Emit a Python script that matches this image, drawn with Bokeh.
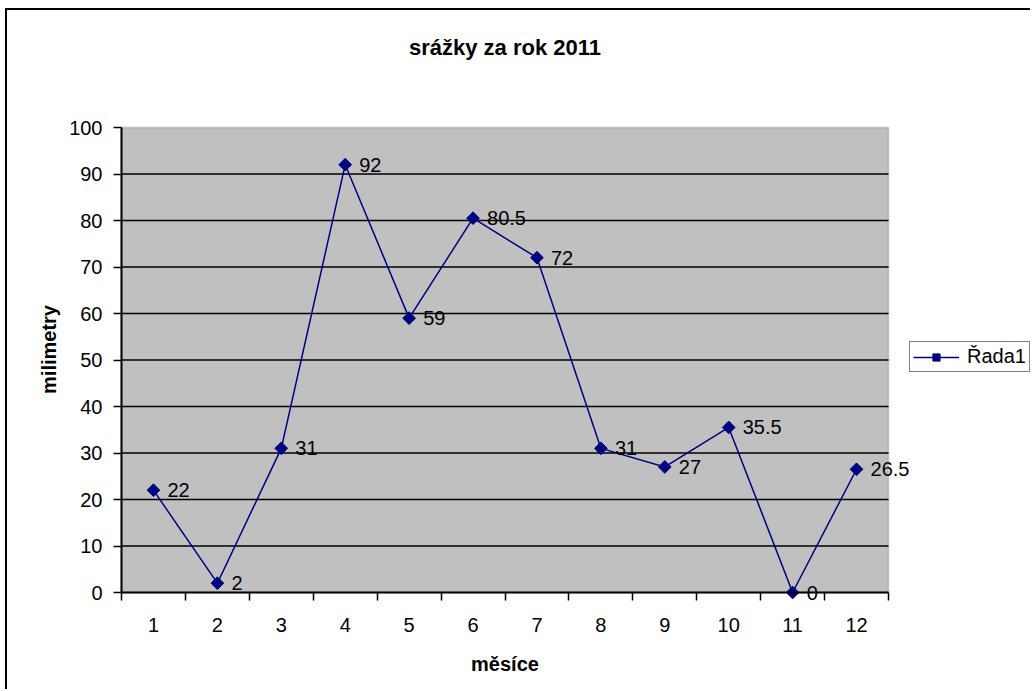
from bokeh.plotting import figure
from bokeh.models import (Range1d, FixedTicker, ColumnDataSource, LabelSet, Label,
                          Legend, LegendItem, BoxAnnotation)
from bokeh.core.properties import value
from bokeh.embed import file_html
from bokeh.resources import INLINE

# ---- data ----
months = [1, 2, 3, 4, 5, 6, 7, 8, 9, 10, 11, 12]
rainfall = [22, 2, 31, 92, 59, 80.5, 72, 31, 27, 35.5, 0, 26.5]
labels = ["22", "2", "31", "92", "59", "80.5", "72", "31", "27", "35.5", "0", "26.5"]
month_labels = ["1", "2", "3", "4", "5", "6", "7", "8", "9", "10", "11", "12"]
y_ticks = [0, 10, 20, 30, 40, 50, 60, 70, 80, 90, 100]
y_tick_labels = ["0", "10", "20", "30", "40", "50", "60", "70", "80", "90", "100"]
grid_ticks = [10, 20, 30, 40, 50, 60, 70, 80, 90]
y_min, y_max = 0, 100

FONT = "Liberation Sans"
NAVY = "#000080"

# ---- layout (pixels) ----
W, H = 1025, 681            # canvas size (page offset 7, 10)
LEFT_PANEL, BOTTOM_PANEL = 0, 0
AREA_L, AREA_R = 114, 881   # plot area in canvas px
AREA_T, AREA_B = 117, 582
x_lo, x_hi = months[0] - 0.5, months[-1] + 0.5
sx = (AREA_R - AREA_L) / (x_hi - x_lo)
sy = (AREA_B - AREA_T) / (y_max - y_min)
x_start = x_lo - (AREA_L - LEFT_PANEL) / sx
x_end = x_hi + (W - AREA_R) / sx
y_top = y_max + AREA_T / sy
y_bot = y_min - (H - BOTTOM_PANEL - AREA_B) / sy

p = figure(width=W, height=H, output_backend="svg", toolbar_location=None,
           x_range=Range1d(x_start, x_end), y_range=Range1d(y_bot, y_top),
           min_border_left=0, min_border_right=0, min_border_top=0,
           min_border_bottom=0)
p.styles = {"border-top": "2px solid black", "border-left": "2px solid black",
            "margin-left": "5px", "margin-top": "8px"}
p.background_fill_color = "white"
p.border_fill_color = "white"
p.outline_line_color = None
p.xgrid.visible = False
p.ygrid.visible = False

area = BoxAnnotation(left=x_lo, right=x_hi, bottom=y_min, top=y_max,
                     fill_color="#C0C0C0", fill_alpha=1,
                     line_color="#808080", line_width=2, level="image")
p.add_layout(area)

# horizontal grid lines inside the plot area
p.segment(x0=[x_lo] * len(grid_ticks), x1=[x_hi] * len(grid_ticks),
          y0=grid_ticks, y1=grid_ticks, line_color="black", line_width=1.5)

# x axis (tick marks between months; labels drawn below)
xa = p.xaxis[0]
xa.fixed_location = y_min
xa.bounds = (x_lo, x_hi)
xa.ticker = FixedTicker(ticks=[], minor_ticks=[m - 0.5 for m in months] + [x_hi])
xa.major_tick_out = 0
xa.major_tick_in = 0
xa.minor_tick_out = 8
xa.minor_tick_in = 0
xa.minor_tick_line_color = "black"
xa.minor_tick_line_width = 1.5
xa.axis_line_color = "black"
xa.axis_line_width = 2

# y axis
ya = p.yaxis[0]
ya.fixed_location = x_lo
ya.bounds = (y_min, y_max)
ya.ticker = FixedTicker(ticks=[], minor_ticks=y_ticks)
ya.major_tick_out = 0
ya.major_tick_in = 0
ya.minor_tick_out = 8
ya.minor_tick_in = 0
ya.minor_tick_line_color = "black"
ya.minor_tick_line_width = 1.5
ya.axis_line_color = "black"
ya.axis_line_width = 2

# tick labels
xt = ColumnDataSource(dict(x=months, y=[y_min - 32.5 / sy] * len(months), t=month_labels))
p.add_layout(LabelSet(x="x", y="y", text="t", source=xt, text_align="center",
                      text_baseline="middle", text_font=value(FONT),
                      text_font_size=value("20px"), text_color="black"))
yt = ColumnDataSource(dict(x=[x_lo - 19 / sx] * len(y_ticks), y=y_ticks, t=y_tick_labels))
p.add_layout(LabelSet(x="x", y="y", text="t", source=yt, text_align="right",
                      text_baseline="middle", text_font=value(FONT),
                      text_font_size=value("20px"), text_color="black"))

# axis titles and chart title
mid_x = (x_lo + x_hi) / 2
p.add_layout(Label(x=mid_x, y=y_min - 71 / sy, text="měsíce", text_align="center",
                   text_baseline="middle", text_font=FONT, text_font_size="20px",
                   text_font_style="bold", text_color="black"))
p.add_layout(Label(x=x_lo - 73 / sx, y=y_min + (592 - 349) / sy, text="milimetry",
                   angle=1.5707963, text_align="center", text_baseline="middle",
                   text_font=FONT, text_font_size="20px", text_font_style="bold",
                   text_color="black"))
p.add_layout(Label(x=mid_x, y=y_max + (127 - 47) / sy, text="srážky za rok 2011",
                   text_align="center", text_baseline="middle", text_font=FONT,
                   text_font_size="22px", text_font_style="bold", text_color="black"))

# data
src = ColumnDataSource(dict(x=months, y=rainfall, lab=labels))
ln = p.line("x", "y", source=src, line_color=NAVY, line_width=1.5)
sc = p.scatter("x", "y", source=src, marker="square", size=9, angle=0.7853982,
               fill_color=NAVY, line_color=NAVY)
p.add_layout(LabelSet(x="x", y="y", text="lab", source=src, x_offset=14,
                      text_baseline="middle", text_align="left",
                      text_font=value(FONT), text_font_size=value("20px"),
                      text_color="black"))

legend = Legend(items=[LegendItem(label="Řada1", renderers=[ln, sc])],
                location=(909 - 7 - LEFT_PANEL, H - BOTTOM_PANEL - (372 - 10)),
                orientation="vertical",
                label_text_font=FONT, label_text_font_size="20px",
                label_text_color="black", glyph_width=46, glyph_height=18,
                padding=3, margin=0, spacing=0, label_standoff=8,
                border_line_color="black", border_line_width=1.5,
                background_fill_color="white", background_fill_alpha=1)
p.add_layout(legend, "center")

open("out.html", "w").write(file_html(p, INLINE))
